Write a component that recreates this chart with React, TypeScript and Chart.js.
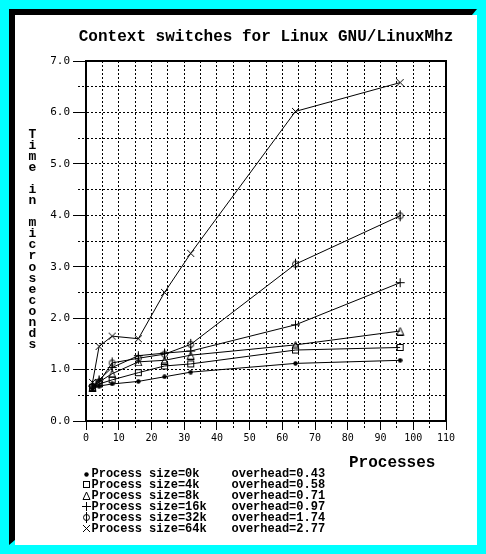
import React, { useEffect, useRef } from 'react';
import { Chart, registerables } from 'chart.js';

Chart.register(...registerables);

// ---------- data ----------
const processes = [2, 4, 8, 16, 24, 32, 64, 96];
const size0k = [0.63, 0.68, 0.72, 0.77, 0.86, 0.95, 1.12, 1.18];
const size4k = [0.65, 0.72, 0.8, 0.94, 1.07, 1.11, 1.38, 1.43];
const size8k = [0.66, 0.76, 0.92, 1.15, 1.18, 1.28, 1.48, 1.75];
const size16k = [0.68, 0.8, 1.04, 1.27, 1.32, 1.36, 1.87, 2.69];
const size32k = [0.68, 0.76, 1.13, 1.22, 1.3, 1.49, 3.05, 3.99];
const size64k = [0.75, 1.45, 1.65, 1.6, 2.5, 3.26, 6.02, 6.58];

const seriesLabels = [
  'Process size=0k',
  'Process size=4k',
  'Process size=8k',
  'Process size=16k',
  'Process size=32k',
  'Process size=64k',
];
const overheadLabels = [
  'overhead=0.43',
  'overhead=0.58',
  'overhead=0.71',
  'overhead=0.97',
  'overhead=1.74',
  'overhead=2.77',
];
const markerKinds = ['dot', 'square', 'triangle', 'plus', 'phi', 'cross'];

const titleText = 'Context switches for Linux GNU/LinuxMhz';
const yTitleText = 'Time in microseconds';
const xTitleText = 'Processes';

const xMin = 0;
const xMax = 110;
const xStep = 5;
const yMin = 0;
const yMax = 7;
const yStep = 0.5;

// ---------- markers ----------
function makeMarker(kind: string): HTMLCanvasElement {
  const c = document.createElement('canvas');
  let w = 9;
  let h = 9;
  if (kind === 'dot') { w = 5; h = 5; }
  if (kind === 'plus') { w = 11; h = 11; }
  if (kind === 'phi') { w = 9; h = 13; }
  c.width = w;
  c.height = h;
  const g = c.getContext('2d')!;
  g.strokeStyle = '#000';
  g.fillStyle = '#000';
  g.lineWidth = 1;
  g.beginPath();
  if (kind === 'dot') {
    g.arc(2.5, 2.5, 2.2, 0, Math.PI * 2);
    g.fill();
  } else if (kind === 'square') {
    g.strokeRect(1.5, 1.5, 6, 6);
  } else if (kind === 'triangle') {
    g.moveTo(4.5, 1);
    g.lineTo(8, 8.5);
    g.lineTo(1, 8.5);
    g.closePath();
    g.stroke();
  } else if (kind === 'plus') {
    g.moveTo(5.5, 1);
    g.lineTo(5.5, 10);
    g.moveTo(1, 5.5);
    g.lineTo(10, 5.5);
    g.stroke();
  } else if (kind === 'phi') {
    g.arc(4.5, 6.5, 3, 0, Math.PI * 2);
    g.moveTo(4.5, 1);
    g.lineTo(4.5, 12);
    g.stroke();
  } else {
    g.moveTo(1, 1);
    g.lineTo(8, 8);
    g.moveTo(8, 1);
    g.lineTo(1, 8);
    g.stroke();
  }
  return c;
}

function makeDecorPlugin(markers: HTMLCanvasElement[]) {
  return {
    id: 'decor',
    afterDraw(chart: any) {
      const { ctx, chartArea } = chart;
      ctx.save();
      // frame around plot
      ctx.strokeStyle = '#000';
      ctx.lineWidth = 2;
      ctx.strokeRect(chartArea.left, chartArea.top, chartArea.right - chartArea.left, chartArea.bottom - chartArea.top);

      ctx.fillStyle = '#000';
      // title
      ctx.font = 'bold 16px "Liberation Mono", monospace';
      ctx.textAlign = 'center';
      ctx.textBaseline = 'middle';
      ctx.fillText(titleText, (chartArea.left + chartArea.right) / 2, 37);

      // y title stacked
      ctx.font = 'bold 13px "Liberation Mono", monospace';
      ctx.textBaseline = 'alphabetic';
      for (let i = 0; i < yTitleText.length; i++) {
        const ch = yTitleText[i];
        if (ch === ' ') continue;
        ctx.fillText(ch, 32.5, 137.5 + i * 11.09);
      }

      // x title
      ctx.font = 'bold 16px "Liberation Mono", monospace';
      ctx.textAlign = 'left';
      ctx.textBaseline = 'middle';
      ctx.fillText(xTitleText, 349, 463);

      // legend
      ctx.font = 'bold 12px "Liberation Mono", monospace';
      for (let i = 0; i < seriesLabels.length; i++) {
        const y = 474 + i * 10.9;
        const m = markers[i];
        if (m) ctx.drawImage(m, Math.round(86 - m.width / 2), Math.round(y - m.height / 2));
        ctx.fillText(seriesLabels[i], 91.5, y);
        ctx.fillText(overheadLabels[i], 231.5, y);
      }
      ctx.restore();
    },
  };
}

export default function App() {
  const ref = useRef<HTMLCanvasElement | null>(null);

  useEffect(() => {
    if (!ref.current) return;
    const markers = markerKinds.map(makeMarker);
    const series = [size0k, size4k, size8k, size16k, size32k, size64k];
    const chart: any = new Chart(ref.current, {
      type: 'line',
      data: {
        datasets: series.map((vals, i) => ({
          label: seriesLabels[i],
          data: processes.map((p, j) => ({ x: p, y: vals[j] })),
          borderColor: '#000',
          backgroundColor: '#000',
          borderWidth: 1,
          pointStyle: markers[i] as any,
          pointRadius: 4,
          tension: 0,
          fill: false,
        })),
      },
      options: {
        responsive: false,
        animation: false,
        devicePixelRatio: 1,
        layout: { padding: { left: 36, right: 40, top: 61, bottom: 103 } },
        plugins: {
          legend: { display: false },
          title: { display: false },
          tooltip: { enabled: false },
        },
        scales: {
          x: {
            type: 'linear',
            min: xMin,
            max: xMax,
            afterFit: (s: any) => { s.height = 30; },
            ticks: {
              stepSize: xStep,
              autoSkip: false,
              maxRotation: 0,
              padding: 2,
              color: '#000',
              font: { family: '"DejaVu Sans Mono", monospace', size: 10 },
              callback: (v: any) => (Number(v) % 10 === 0 ? String(v) : ''),
            },
            grid: {
              color: '#000',
              lineWidth: 1,
              tickLength: 9,
              tickColor: '#000',
              tickBorderDash: (c: any) => (c.tick && c.tick.value % 10 === 0 ? [] : [2, 2, 2, 20]),
            },
            border: { display: true, color: '#000', width: 2, dash: [2, 2] },
          },
          y: {
            type: 'linear',
            min: yMin,
            max: yMax,
            afterFit: (s: any) => { s.width = 50; },
            ticks: {
              stepSize: yStep,
              autoSkip: false,
              padding: 3,
              color: '#000',
              font: { family: '"DejaVu Sans Mono", monospace', size: 11 },
              callback: (v: any) => (Number.isInteger(Number(v)) ? Number(v).toFixed(1) : ''),
            },
            grid: {
              color: '#000',
              lineWidth: 1,
              tickLength: 13,
              tickColor: '#000',
              tickBorderDash: (c: any) =>
                c.tick && Number.isInteger(c.tick.value) ? [] : [0, 5, 2, 2, 2, 2, 2, 2],
            },
            border: { display: true, color: '#000', width: 2, dash: [2, 2] },
          },
        },
      } as any,
      plugins: [makeDecorPlugin(markers)],
    });
    return () => chart.destroy();
  }, []);

  return (
    <div style={{ position: 'fixed', left: 0, top: 0, width: 486, height: 554, background: '#00ffff', overflow: 'hidden' }}>
      <div style={{ position: 'absolute', left: 15, top: 15, width: 462, height: 530, background: '#ffffff' }} />
      <div
        style={{
          position: 'absolute',
          left: 9,
          top: 9,
          width: 468,
          height: 6,
          background: '#000000',
          clipPath: 'polygon(0 0, 100% 0, calc(100% - 5px) 100%, 0 100%)',
        }}
      />
      <div
        style={{
          position: 'absolute',
          left: 9,
          top: 9,
          width: 6,
          height: 536,
          background: '#000000',
          clipPath: 'polygon(0 0, 100% 0, 100% calc(100% - 5px), 0 100%)',
        }}
      />
      <canvas ref={ref} width={486} height={554} style={{ position: 'absolute', left: 0, top: 0 }} />
    </div>
  );
}
